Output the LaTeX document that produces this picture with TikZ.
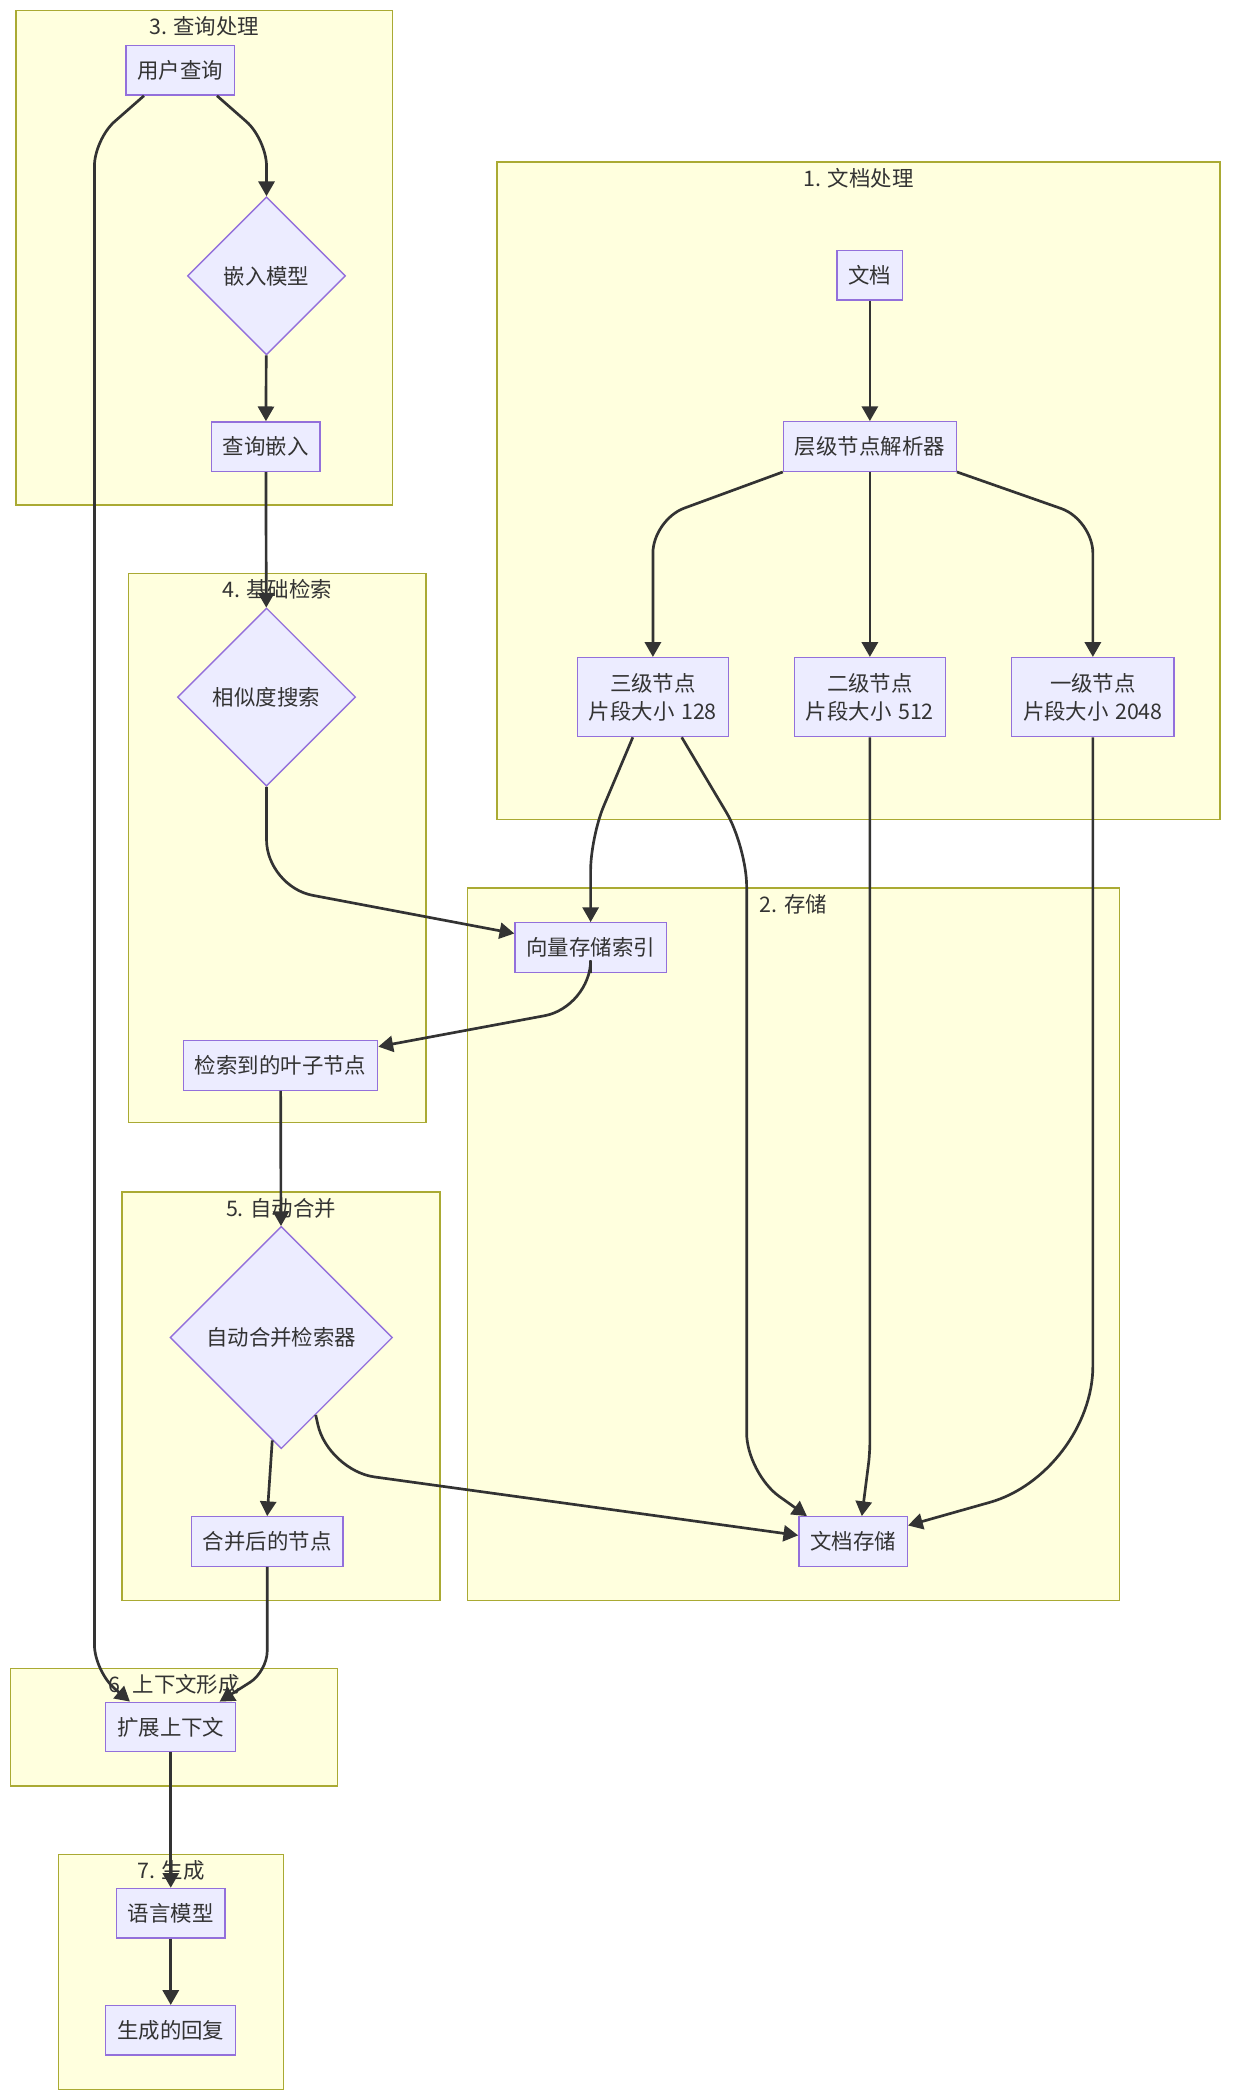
\documentclass[tikz,border=0pt]{standalone}
\usepackage{fontspec}
\setmainfont{Noto Sans CJK SC}
\usetikzlibrary{arrows.meta}
\usetikzlibrary{shapes.geometric}

\definecolor{clusterfill}{HTML}{FFFFDE}
\definecolor{clusterline}{HTML}{AAAA33}
\definecolor{nodefill}{HTML}{ECECFF}
\definecolor{nodeline}{HTML}{9370DB}
\definecolor{edgeline}{HTML}{333333}

\begin{document}
\begin{tikzpicture}[x=1pt, y=-1pt,
    every node/.style={font=\fontsize{16}{21}\selectfont, text=edgeline},
    cluster/.style={draw=clusterline, fill=clusterfill, line width=1pt},
    box/.style={draw=nodeline, fill=nodefill, line width=1pt, inner xsep=8.5pt, inner ysep=0pt, minimum height=37pt},
    tallbox/.style={box, minimum height=59pt, align=center},
    choice/.style={draw=nodeline, fill=nodefill, line width=1pt, diamond, aspect=1, inner sep=0pt},
    flow/.style={draw=edgeline, line width=2pt, -{Triangle[length=11pt,width=12pt]}}]
          \useasboundingbox (0,0) rectangle (920,1568);
          \foreach \name/\xa/\ya/\xb/\yb/\title in {
            docproc/371/121/911/612/{1. 文档处理},
            storage/349/663/836/1195/{2. 存储},
            queryproc/12/8/293/377/{3. 查询处理},
            basicret/96/428/318/838/{4. 基础检索},
            automerge/91/890/328.6/1195/{5. 自动合并},
            ctxform/8/1246/252/1333.6/{6. 上下文形成},
            generate/43.6/1384.6/211.6/1560/{7. 生成}
          }{
            \draw [cluster] (\xa,\ya) rectangle (\xb,\yb);
            \node (\name) at ({(\xa+\xb)/2},{\ya+12}) {\title};
          }
          \node [box] (query) at (134.5,52.5) {用户查询};
          \node [choice, minimum size=118pt] (embedmodel) at (199,206) {嵌入模型};
          \node [box] (qembed) at (198.5,333.5) {查询嵌入};
          \node [choice, minimum size=133pt] (simsearch) at (199,520.5) {相似度搜索};
          \node [box] (leaves) at (209.5,795.5) {检索到的叶子节点};
          \node [box] (doc) at (649.5,205.6) {文档};
          \node [box] (parser) at (649.5,333.4) {层级节点解析器};
          \node [tallbox] (lvlthree) at (487.5,520.5) {三级节点\\片段大小\hspace{0.3em}128};
          \node [tallbox] (lvltwo) at (649.5,520.5) {二级节点\\片段大小\hspace{0.3em}512};
          \node [tallbox] (lvlone) at (816,520.5) {一级节点\\片段大小\hspace{0.3em}2048};
          \node [box] (vindex) at (441,707.5) {向量存储索引};
          \node [box] (docstore) at (637,1151) {文档存储};
          \node [choice, minimum size=166pt] (merger) at (210,998.7) {自动合并检索器};
          \node [box] (merged) at (199.5,1151) {合并后的节点};
          \node [box] (context) at (127.5,1289.5) {扩展上下文};
          \node [box] (llm) at (127.5,1428.5) {语言模型};
          \node [box] (answer) at (127.5,1516) {生成的回复};
          \draw [flow] (doc) -- (parser);
          \draw [flow, rounded corners=25pt] (parser.south west) -- (487.5,388) -- (lvlthree.north);
          \draw [flow] (parser) -- (lvltwo);
          \draw [flow, rounded corners=25pt] (parser.south east) -- (816,388) -- (lvlone.north);
          \draw [flow, rounded corners=25pt] ([xshift=-15pt]lvlthree.south) -- (441,625) -- (vindex.north);
          \draw [flow, rounded corners=30pt] ([xshift=21.5pt]lvlthree.south) -- (557.5,632) -- (557.5,1100) -- ([xshift=-34.5pt]docstore.north);
          \draw [flow, rounded corners=8pt] (lvltwo.south) -- (649.5,1085) -- ([xshift=6.5pt]docstore.north);
          \draw [flow, rounded corners=80pt] (lvlone.south) -- (816,1100) -- ([yshift=12pt]docstore.east);
          \draw [flow, rounded corners=20pt] ([xshift=-27pt]query.south) -- (70.5,104) -- (70.5,1248) -- ([xshift=-30.5pt]context.north);
          \draw [flow, rounded corners=20pt] ([xshift=27.5pt]query.south) -- (199,104) -- (embedmodel.north);
          \draw [flow] (embedmodel) -- (qembed);
          \draw [flow] (qembed) -- (simsearch);
          \draw [flow, rounded corners=35pt] (simsearch.south) -- (199,662) -- ([yshift=10.5pt]vindex.west);
          \draw [flow, rounded corners=35pt] (vindex.south) -- (441,752) -- ([yshift=14pt]leaves.east);
          \draw [flow] (leaves) -- (merger);
          \draw [flow] (merger.265) -- (merged.north);
          \draw [flow, rounded corners=35pt] (merger.-66) -- (245,1098) -- ([yshift=4.6pt]docstore.west);
          \draw [flow, rounded corners=15pt] (merged.south) -- (199.5,1248) -- ([xshift=36.5pt]context.north);
          \draw [flow] (context) -- (llm);
          \draw [flow] (llm) -- (answer);
        \end{tikzpicture}
\end{document}
